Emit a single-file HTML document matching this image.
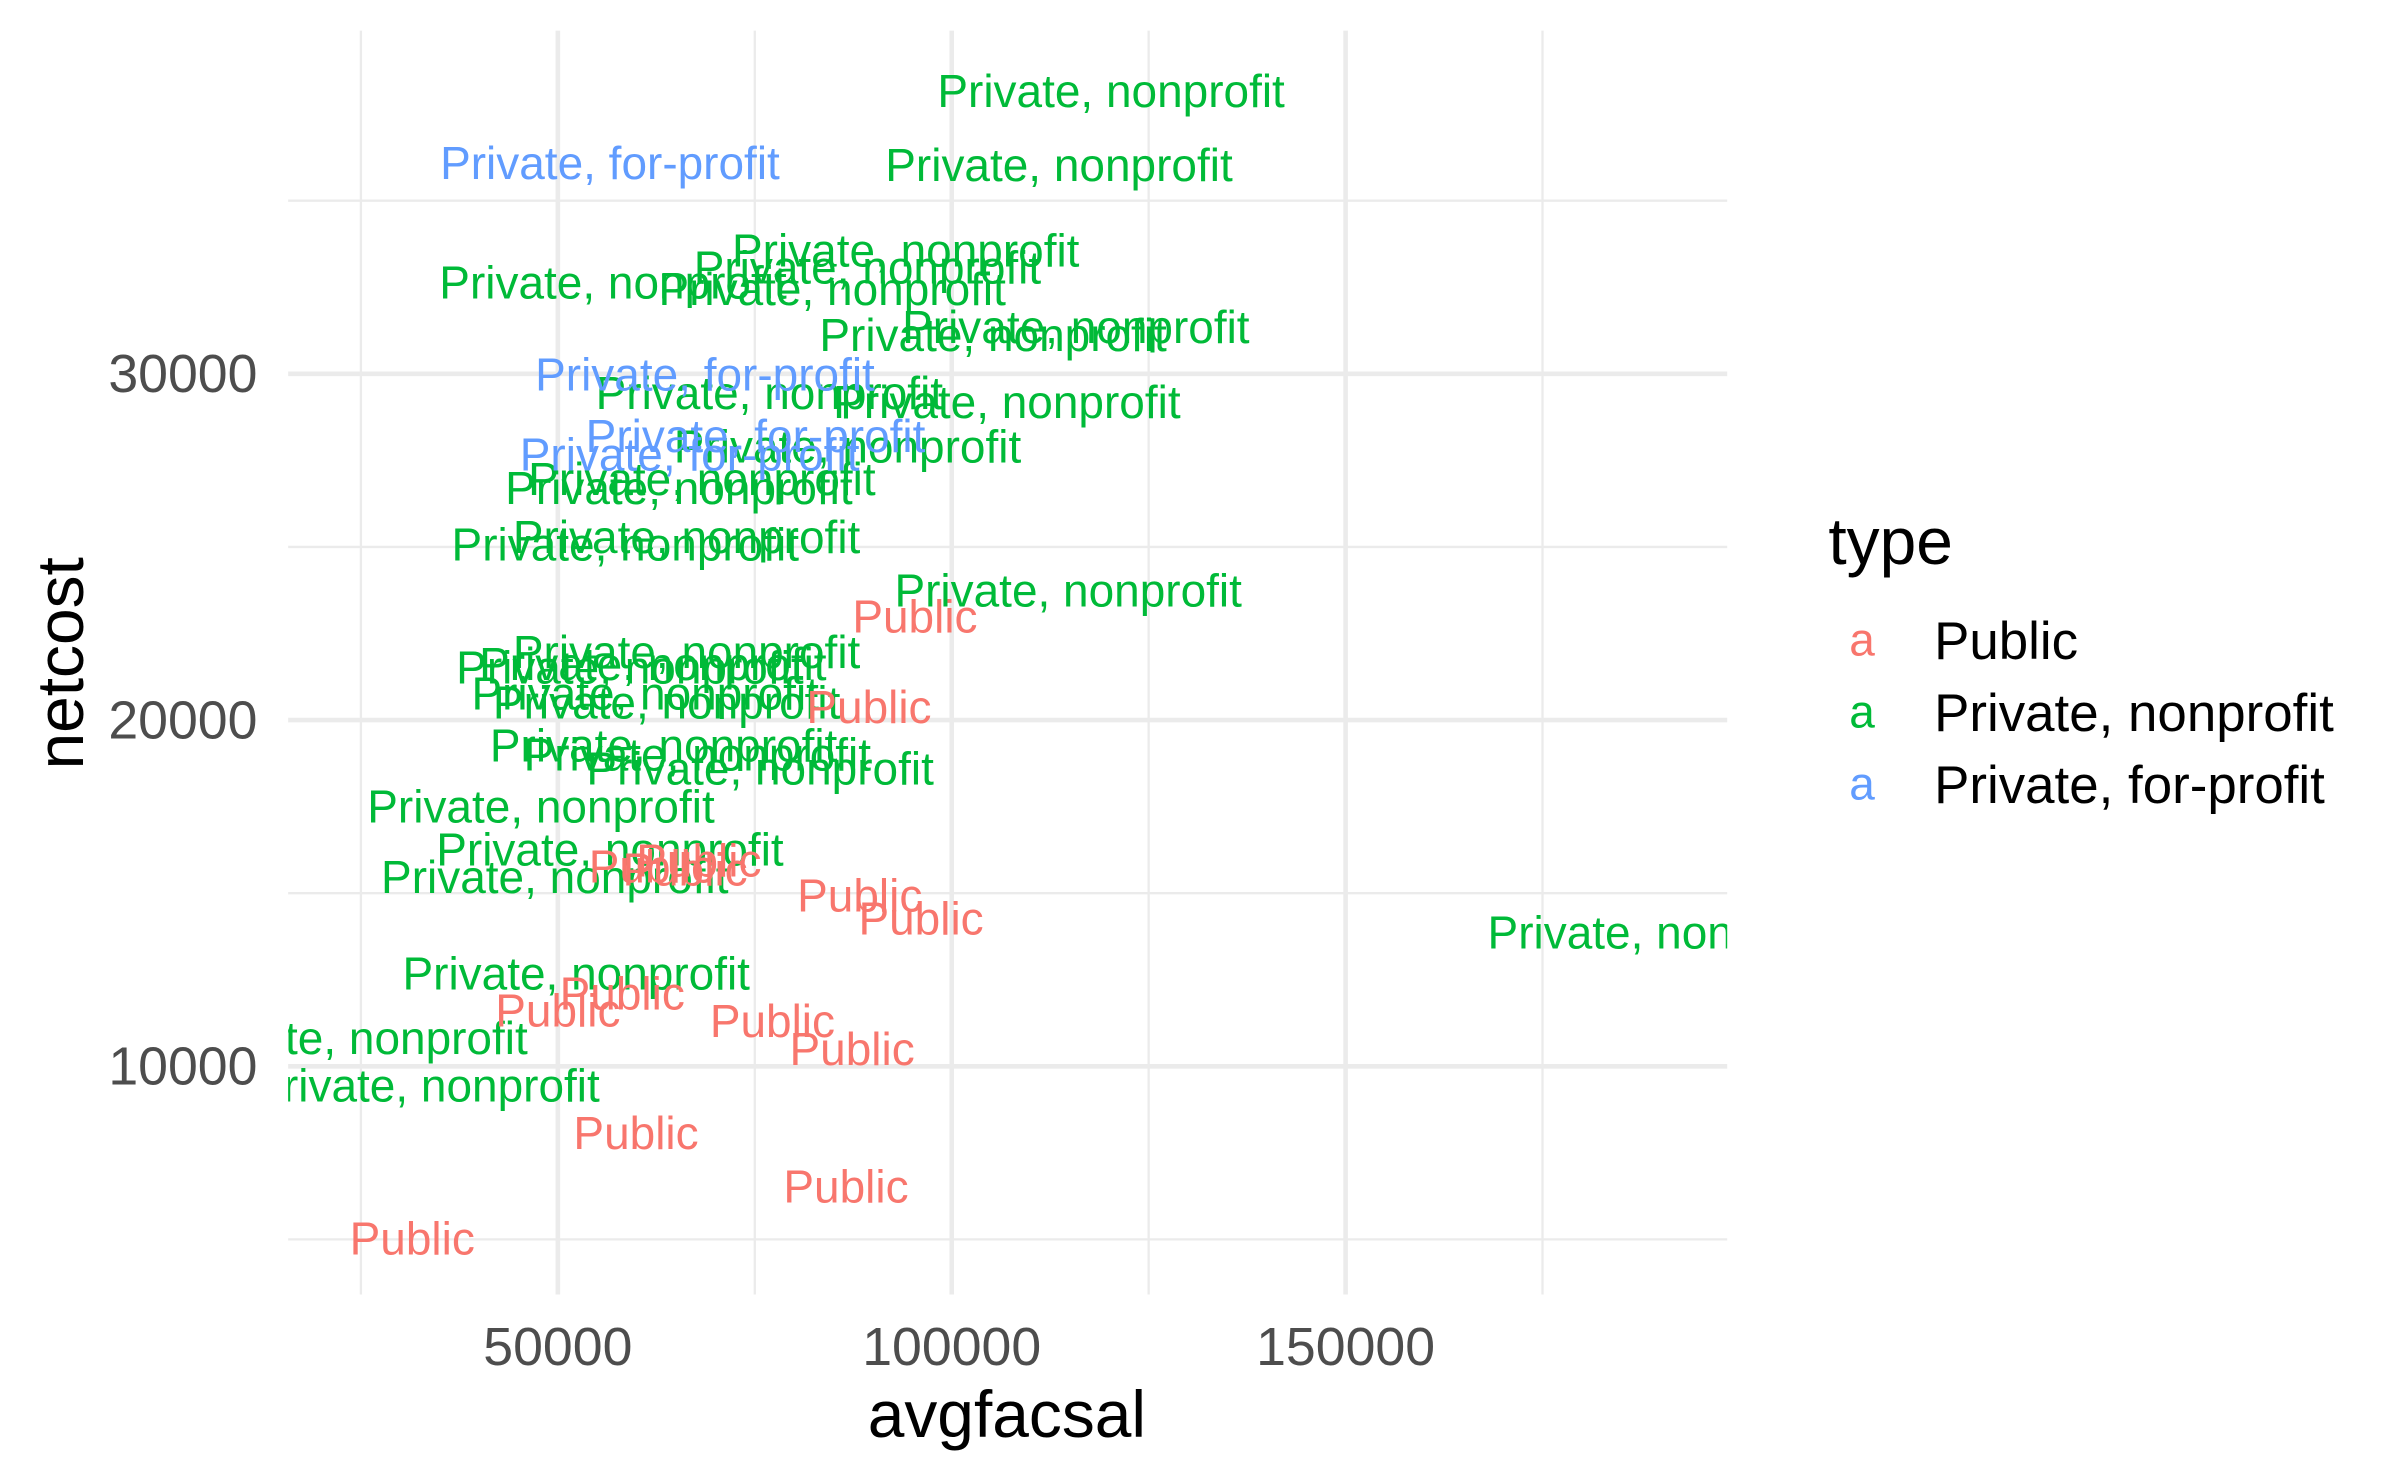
<!DOCTYPE html>
<html><head><meta charset="utf-8"><style>
html,body{margin:0;padding:0;background:#fff;}
svg{display:block;font-family:"Liberation Sans",sans-serif;}
</style></head><body>
<svg id="chart" width="2400" height="1483" viewBox="0 0 1566 968" preserveAspectRatio="none" xmlns="http://www.w3.org/2000/svg">
<defs><clipPath id="pc"><rect x="188" y="20" width="939" height="825"/></clipPath></defs>
<rect width="1566" height="968" fill="#fff"/>
<g id="grid"></g>
<g id="marks" clip-path="url(#pc)"></g>
<g id="axes"></g>
<text x="657" y="938" font-size="43" text-anchor="middle" fill="#000">avgfacsal</text>
<text transform="translate(54,433) rotate(-90)" font-size="43" text-anchor="middle" fill="#000">netcost</text>
<g>
<text x="1193" y="368" font-size="43" fill="#000">type</text>
<g id="legend"></g>
</g>
</svg>
<script>
const types = ["Public","Private, nonprofit","Private, for-profit"];
const colors = ["#F8766D","#00BA38","#619CFF"];
const avgfacsal = [120233,113618,94163,89299,57004,84825,115758,105252,76848,107003,86770,68288,65369,66342,58560,114785,66342,62062,59144,61089,63813,63424,67704,75681,47860,56615,49611,52335,190076,24125,33269,
56615,68677,75097,66731,
95330,89494,67899,61868,66148,88326,96108,58171,50000,77237,87354,59922,86575,31518];
const netcost = [38142,36018,33540,33053,32611,32434,31327,31106,29425,29159,27876,26947,26681,25265,25044,23717,21947,21593,21504,20752,20487,19248,18982,18584,17478,16239,15442,12654,13849,10796,9424,
36062,29956,28186,27655,
22964,20354,15929,15752,15664,14911,14248,12079,11592,11282,10486,8052,6504,5000];
const typeIdx = [1,1,1,1,1,1,1,1,1,1,1,1,1,1,1,1,1,1,1,1,1,1,1,1,1,1,1,1,1,1,1,
2,2,2,2,
0,0,0,0,0,0,0,0,0,0,0,0,0,0];
const xTicks = [50000,100000,150000];
const yTicks = [10000,20000,30000];
const xMinor = [25000,75000,125000,175000];
const yMinor = [5000,15000,25000,35000];

const NS="http://www.w3.org/2000/svg";
const X0=188,X1=1127,Y0=20,Y1=845;
const sx=v=>364+(v-50000)*257/50000;
const sy=v=>244-(v-30000)*226/10000;
function mk(tag,attrs,parent){const e=document.createElementNS(NS,tag);for(const k in attrs)e.setAttribute(k,attrs[k]);parent.appendChild(e);return e;}
const grid=document.getElementById('grid'),axes=document.getElementById('axes'),marks=document.getElementById('marks'),legend=document.getElementById('legend');
xMinor.forEach(v=>{const l=mk('line',{x1:sx(v),x2:sx(v),y1:Y0,y2:Y1,stroke:'#ebebeb','stroke-width':1.5},grid);

});
yMinor.forEach(v=>{const l=mk('line',{x1:X0,x2:X1,y1:sy(v),y2:sy(v),stroke:'#ebebeb','stroke-width':1.5},grid);

});
xTicks.forEach(v=>{const l=mk('line',{x1:sx(v),x2:sx(v),y1:Y0,y2:Y1,stroke:'#ebebeb','stroke-width':3},grid);


const t=mk('text',{x:sx(v),y:891,'font-size':35,'text-anchor':'middle',fill:'#4d4d4d'},axes);t.textContent=v;

});
yTicks.forEach(v=>{const l=mk('line',{x1:X0,x2:X1,y1:sy(v),y2:sy(v),stroke:'#ebebeb','stroke-width':3},grid);


const t=mk('text',{x:168,y:sy(v)+12,'font-size':35,'text-anchor':'end',fill:'#4d4d4d'},axes);t.textContent=v;

});
avgfacsal.forEach((v,i)=>{const t=mk('text',{x:sx(v),y:sy(netcost[i])+10,'font-size':30,'text-anchor':'middle',fill:colors[typeIdx[i]]},marks);
t.textContent=types[typeIdx[i]];

});
types.forEach((ty,i)=>{const y=418+i*47;
const a=mk('text',{x:1215,y:y+10,'font-size':30,'text-anchor':'middle',fill:colors[i]},legend);a.textContent='a';


const t=mk('text',{x:1262,y:y+12,'font-size':34.5,fill:'#000'},legend);t.textContent=ty;

});
</script>
</body></html>
